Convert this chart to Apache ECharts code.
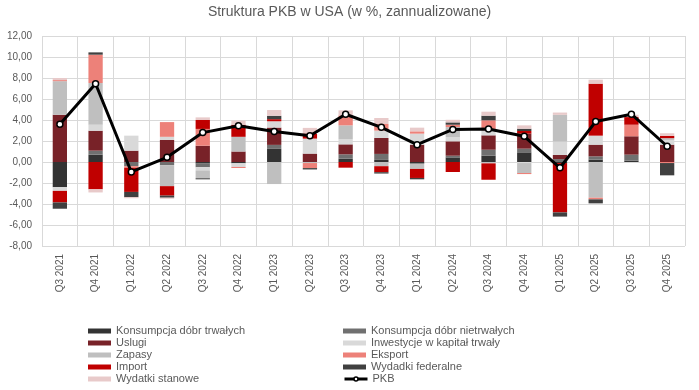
<!DOCTYPE html>
<html>
<head>
<meta charset="utf-8">
<script src="https://cdn.jsdelivr.net/npm/echarts@6/dist/echarts.min.js"></script>
<style>html,body{margin:0;padding:0;background:#fff}#c{width:699px;height:390px}</style>
</head>
<body>
<div id="c"></div>
<script>
const categories = ['Q3 2021','Q4 2021','Q1 2022','Q2 2022','Q3 2022','Q4 2022','Q1 2023','Q2 2023','Q3 2023','Q4 2023','Q1 2024','Q2 2024','Q3 2024','Q4 2024','Q1 2025','Q2 2025','Q3 2025','Q4 2025'];
const trwale     = [-2.4, 0.7, 0, 0, -0.15, -0.12, 1.25, 0, 0.32, 0.2, -0.16, 0.44, 0.6, 0.92, -0.1, 0.22, 0.13, 0];
const nietrwale  = [0, 0.38, -0.4, -0.3, -0.35, 0, 0.38, 0, 0.41, 0.57, 0, 0.16, 0.57, 0.35, 0.28, 0.32, 0.57, 0];
const uslugi     = [4.5, 1.9, 1.08, 2.1, 1.55, 1.0, 1.65, 0.8, 0.95, 1.52, 1.65, 1.37, 1.37, 1.43, 0.4, 1.11, 1.75, 1.65];
const inwestycje = [-0.35, 0.57, 1.43, 0.3, -0.3, -0.35, 0.6, 1.43, 0.48, 0.7, 1.05, 0.38, 0.48, -0.1, 1.27, 0.86, 0, 0.45];
const zapasy     = [3.2, 3.97, 0, -2.0, -0.75, 1.4, -2.1, -0.1, 1.33, -0.4, -0.5, 0.98, -0.13, -0.95, 2.54, -3.4, 0, 0.17];
const eksport    = [0.1, 2.7, -0.15, 1.4, 1.6, -0.1, 0, -0.48, 0.95, 0.63, 0.22, 0.22, 0.95, -0.1, 0, -0.16, 1.1, -0.1];
const importy    = [-1.1, -2.6, -2.3, -0.9, 0.85, 1.15, 0.2, 0.48, -0.54, -0.57, -0.86, -0.95, -1.56, 0.25, -4.7, 4.95, 0.73, 0.22];
const federalne  = [-0.6, 0.22, -0.5, -0.2, -0.1, 0, 0.32, -0.13, 0, -0.13, -0.13, 0.22, 0.44, 0.22, -0.4, -0.38, 0, -1.17];
const stanowe    = [0.2, -0.3, -0.1, -0.1, 0.25, 0.4, 0.55, 0.54, 0.48, 0.57, 0.35, 0.25, 0.38, 0.32, 0.22, 0.38, 0.22, 0.25];
const pkb        = [3.6, 7.45, -0.95, 0.45, 2.8, 3.45, 2.9, 2.5, 4.55, 3.3, 1.65, 3.1, 3.15, 2.45, -0.55, 3.85, 4.55, 1.5];
const yTicks = {min: -8, max: 12, interval: 2};

const names = ['Konsumpcja dóbr trwałych','Konsumpcja dóbr nietrwałych','Uslugi','Inwestycje w kapitał trwały','Zapasy','Eksport','Import','Wydadki federalne','Wydatki stanowe','PKB'];
const colors = ['#333333','#707070','#782228','#D9D9D9','#BFBFBF','#ED8179','#C00000','#404040','#E8CACA'];
const barData = [trwale, nietrwale, uslugi, inwestycje, zapasy, eksport, importy, federalne, stanowe];

const series = barData.map((d, i) => ({
  name: names[i], type: 'bar', stack: 'a', data: d, barWidth: '40%',
  itemStyle: {color: colors[i]}, emphasis: {disabled: true}
}));
series.push({
  name: 'PKB', type: 'line', data: pkb, z: 10,
  lineStyle: {color: '#000', width: 3},
  symbol: 'circle', symbolSize: 6,
  itemStyle: {color: '#fff', borderColor: '#000', borderWidth: 1.5}
});

const legendText = {fontFamily: 'Liberation Sans, Arial, sans-serif', fontSize: 11, color: '#595959', lineHeight: 12};
const chart = echarts.init(document.getElementById('c'));
chart.setOption({
  animation: false,
  textStyle: {fontFamily: 'Liberation Sans, Arial, sans-serif'},
  title: {text: 'Struktura PKB w USA (w %, zannualizowane)', left: 'center', top: 5, padding: 0,
    textStyle: {fontSize: 14, fontWeight: 'normal', color: '#595959', fontFamily: 'Liberation Sans, Arial, sans-serif'}},
  grid: {left: 42, right: 14, top: 36, bottom: 144, containLabel: false},
  legend: [
    {data: [names[0], names[2], names[4], names[6], names[8]], orient: 'vertical', left: 88, top: 325, icon: 'rect',
     itemWidth: 23, itemHeight: 5, itemGap: 0, textStyle: legendText, padding: 0, selectedMode: false},
    {data: [names[1], names[3], names[5], names[7]], orient: 'vertical', left: 343, top: 325, icon: 'rect',
     itemWidth: 23, itemHeight: 5, itemGap: 0, textStyle: legendText, padding: 0, selectedMode: false},
    {data: ['PKB'], orient: 'vertical', left: 343, top: 373,
     itemWidth: 23, itemHeight: 5, itemGap: 0, textStyle: legendText, padding: 0, selectedMode: false,
     itemStyle: {color: '#fff', borderColor: '#000', borderWidth: 1.5}, lineStyle: {color: '#000', width: 3}}
  ],
  xAxis: {type: 'category', data: categories, boundaryGap: true,
    axisLine: {show: false}, axisTick: {show: false},
    splitLine: {show: true, lineStyle: {color: '#D9D9D9', width: 1}},
    axisLabel: {rotate: 90, fontSize: 10, color: '#595959', margin: 8, interval: 0}},
  yAxis: {type: 'value', min: yTicks.min, max: yTicks.max, interval: yTicks.interval,
    axisLine: {show: false}, axisTick: {show: false},
    splitLine: {lineStyle: {color: '#D9D9D9', width: 1}},
    axisLabel: {fontSize: 10, color: '#595959', margin: 10, formatter: v => v.toFixed(2).replace('.', ',')}},
  series: series
});
</script>
</body>
</html>
